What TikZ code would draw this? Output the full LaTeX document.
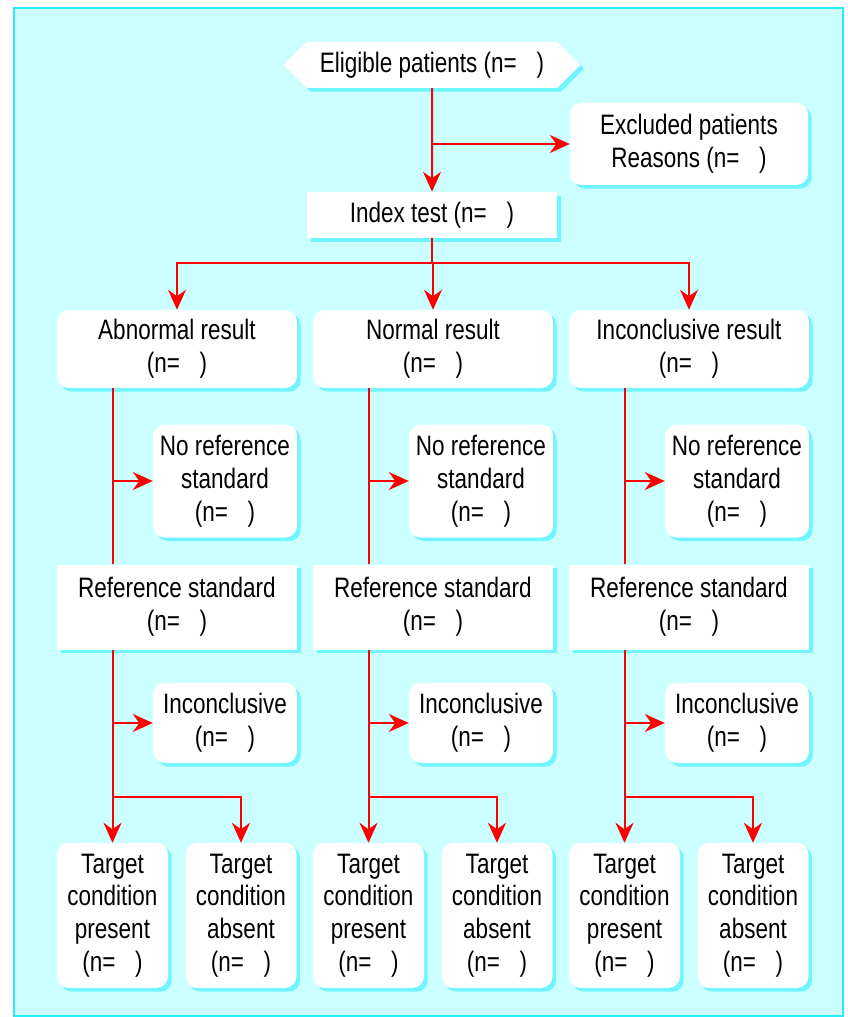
\documentclass[tikz,border=0pt]{standalone}
\usepackage{fontspec}
\setmainfont{Liberation Sans}[FakeStretch=0.8]
\usetikzlibrary{positioning, shapes.symbols, shadows, arrows.meta}
\definecolor{panelcyan}{RGB}{204,255,255}
\definecolor{edgecyan}{RGB}{40,235,255}
\definecolor{shadecyan}{RGB}{110,245,255}
\definecolor{flowred}{RGB}{255,0,0}

\tikzset{
  box/.style={fill=white, rounded corners=3.5mm, align=center, inner sep=0pt,
    font=\fontsize{24}{28}\selectfont,
    drop shadow={shadow xshift=1.1mm, shadow yshift=-1.1mm, fill=shadecyan, opacity=1}},
  sqbox/.style={box, sharp corners},
  flow/.style={draw=flowred, line width=0.6mm},
}

\begin{document}
\begin{tikzpicture}[x=0.3mm, y=-0.3mm, >={Stealth[length=6mm,width=5.4mm]}]
    \useasboundingbox (0,0) rectangle (847,1017);

    % Panel
    \draw[fill=panelcyan, draw=edgecyan, line width=0.4mm] (14,8) rectangle (843,1016);

    % Top of the flow
    \node[sqbox, signal, signal to=west and east, signal pointer angle=90,
          minimum width=89mm, minimum height=13.8mm] at (432,65) (elig) {Eligible patients (n=\hspace{0.7em})};
    \node[box, minimum width=71.4mm, minimum height=24.6mm] at (689,144) (excl) {Excluded patients\\Reasons (n=\hspace{0.7em})};
    \node[sqbox, minimum width=75mm, minimum height=13.8mm] at (432,215) (idx) {Index test (n=\hspace{0.7em})};
    \coordinate (split) at (432,263);

    \draw[flow,->] (elig) -- (idx);
    \draw[flow,->] (excl.west -| elig) -- (excl.west);
    \draw[flow] (idx) -- (split);

    % One column per index test result
    \foreach \o/\i/\txt in {0/1/Abnormal result, 256/2/Normal result, 512/3/Inconclusive result} {
        \node[box, minimum width=72mm, minimum height=23.4mm] at (177+\o,349) (res\i) {\txt\\(n=\hspace{0.7em})};
        \node[box, minimum width=43.2mm, minimum height=33.9mm] at (225+\o,481) (noref\i) {No reference\\standard\\(n=\hspace{0.7em})};
        \node[sqbox, minimum width=72mm, minimum height=25.5mm] at (177+\o,607) (ref\i) {Reference standard\\(n=\hspace{0.7em})};
        \node[box, minimum width=43.2mm, minimum height=24mm] at (225+\o,723) (inc\i) {Inconclusive\\(n=\hspace{0.7em})};
        \node[box, minimum width=33.3mm, minimum height=43.5mm] at (112.5+\o,915.5) (tp\i) {Target\\condition\\present\\(n=\hspace{0.7em})};
        \node[box, minimum width=33.3mm, minimum height=43.5mm] at (241+\o,915.5) (ta\i) {Target\\condition\\absent\\(n=\hspace{0.7em})};
        \coordinate (fork\i) at (112.5+\o,797);

        \draw[flow,->] (split) -| (res\i);
        \draw[flow] (res\i.south -| tp\i) -- (ref\i.north -| tp\i);
        \draw[flow,->] (noref\i.west -| tp\i) -- (noref\i.west);
        \draw[flow,->] (ref\i.south -| tp\i) -- (tp\i.north);
        \draw[flow,->] (inc\i.west -| tp\i) -- (inc\i.west);
        \draw[flow,->] (fork\i) -| (ta\i.north);
    }

\end{tikzpicture}
\end{document}
